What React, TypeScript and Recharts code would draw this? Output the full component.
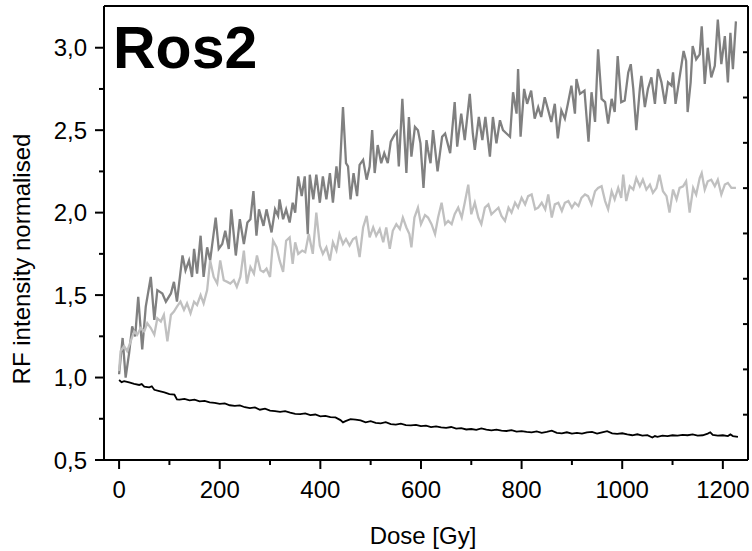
import React from 'react';
import { LineChart, Line, XAxis, YAxis, Customized } from 'recharts';

// Dark grey series (upper)
const doseDark = [0, 7, 13, 20, 26, 32, 38, 46, 53, 63, 70, 76, 86, 93, 103, 109, 115, 126, 132, 139, 145, 149, 155, 162, 168, 175, 181, 192, 198, 205, 211, 218, 223, 232, 240, 248, 255, 261, 267, 273, 278, 287, 293, 303, 310, 316, 319, 326, 332, 339, 345, 350, 356, 363, 369, 375, 379, 386, 392, 399, 405, 412, 419, 425, 432, 437, 445, 451, 455, 460, 466, 473, 478, 485, 492, 498, 503, 508, 514, 521, 527, 534, 540, 547, 552, 556, 563, 566, 571, 576, 581, 588, 594, 599, 605, 611, 614, 619, 624, 633, 642, 648, 653, 658, 667, 672, 680, 687, 697, 703, 707, 715, 722, 728, 737, 743, 750, 757, 763, 770, 777, 783, 790, 793, 798, 805, 811, 819, 826, 833, 839, 846, 853, 859, 866, 872, 879, 886, 892, 899, 906, 909, 916, 925, 933, 939, 946, 952, 959, 966, 972, 979, 985, 991, 998, 1005, 1012, 1017, 1022, 1028, 1035, 1038, 1045, 1051, 1058, 1065, 1071, 1078, 1085, 1091, 1098, 1101, 1106, 1111, 1118, 1122, 1127, 1130, 1136, 1140, 1147, 1154, 1158, 1164, 1170, 1177, 1184, 1190, 1197, 1204, 1210, 1215, 1220, 1226];
const rfDark = [1.02, 1.24, 1.0, 1.15, 1.31, 1.25, 1.49, 1.17, 1.43, 1.61, 1.35, 1.53, 1.51, 1.46, 1.51, 1.58, 1.46, 1.74, 1.65, 1.71, 1.61, 1.78, 1.63, 1.86, 1.61, 1.79, 1.71, 1.97, 1.78, 1.81, 1.89, 1.78, 2.02, 1.74, 1.96, 1.81, 1.94, 1.96, 2.13, 1.86, 2.02, 1.92, 2.02, 1.88, 2.02, 1.98, 2.08, 1.96, 2.02, 1.94, 2.06, 2.0, 2.22, 2.1, 2.22, 1.87, 2.23, 2.08, 2.23, 2.06, 2.22, 2.08, 2.24, 2.06, 2.28, 2.15, 2.64, 2.3, 2.28, 2.08, 2.24, 2.1, 2.29, 2.32, 2.2, 2.28, 2.5, 2.24, 2.41, 2.3, 2.36, 2.3, 2.43, 2.47, 2.49, 2.28, 2.69, 2.52, 2.24, 2.58, 2.34, 2.52, 2.5, 2.42, 2.15, 2.44, 2.38, 2.3, 2.5, 2.25, 2.46, 2.48, 2.42, 2.36, 2.67, 2.4, 2.6, 2.44, 2.72, 2.48, 2.38, 2.58, 2.44, 2.58, 2.34, 2.58, 2.42, 2.56, 2.5, 2.48, 2.46, 2.73, 2.6, 2.87, 2.46, 2.75, 2.66, 2.74, 2.57, 2.64, 2.58, 2.7, 2.62, 2.55, 2.66, 2.45, 2.62, 2.57, 2.66, 2.77, 2.6, 2.81, 2.72, 2.74, 2.43, 2.73, 2.55, 2.99, 2.69, 2.67, 2.54, 2.69, 2.61, 2.95, 2.67, 2.68, 2.85, 2.9, 2.75, 2.5, 2.75, 2.83, 2.64, 2.75, 2.82, 2.66, 2.87, 2.79, 2.66, 2.79, 2.77, 2.85, 2.66, 2.76, 2.9, 2.98, 2.92, 2.61, 2.79, 3.01, 2.93, 2.96, 3.13, 2.78, 3.0, 2.82, 2.89, 3.17, 2.9, 3.07, 2.79, 3.09, 2.87, 3.16];

// Light grey series (middle)
const doseLight = [0, 3, 10, 16, 23, 30, 36, 43, 50, 56, 63, 70, 76, 83, 89, 96, 103, 109, 115, 122, 129, 135, 142, 149, 155, 162, 168, 175, 181, 188, 195, 201, 208, 215, 221, 228, 234, 241, 248, 254, 261, 268, 274, 281, 287, 293, 300, 306, 313, 319, 326, 332, 339, 345, 350, 356, 364, 370, 377, 385, 392, 399, 405, 412, 419, 425, 432, 438, 445, 451, 458, 465, 471, 478, 485, 492, 498, 505, 511, 518, 525, 531, 538, 544, 551, 558, 564, 571, 577, 581, 587, 594, 600, 608, 614, 621, 628, 634, 641, 648, 654, 661, 667, 674, 681, 687, 694, 700, 707, 714, 720, 727, 734, 740, 747, 754, 760, 767, 774, 780, 787, 793, 800, 807, 813, 820, 827, 833, 840, 847, 853, 860, 866, 873, 880, 886, 893, 900, 906, 913, 919, 926, 932, 939, 946, 952, 959, 966, 972, 979, 985, 992, 998, 1002, 1008, 1015, 1022, 1028, 1035, 1041, 1048, 1055, 1061, 1068, 1074, 1081, 1088, 1094, 1101, 1108, 1114, 1121, 1127, 1134, 1141, 1147, 1154, 1158, 1164, 1170, 1177, 1184, 1190, 1197, 1204, 1210, 1217, 1226];
const rfLight = [1.04, 1.16, 1.19, 1.16, 1.22, 1.28, 1.26, 1.3, 1.28, 1.33, 1.3, 1.26, 1.36, 1.34, 1.38, 1.22, 1.38, 1.4, 1.43, 1.46, 1.41, 1.45, 1.39, 1.46, 1.44, 1.5, 1.45, 1.53, 1.71, 1.61, 1.57, 1.71, 1.59, 1.58, 1.57, 1.59, 1.55, 1.61, 1.77, 1.57, 1.67, 1.63, 1.74, 1.65, 1.64, 1.66, 1.61, 1.83, 1.79, 1.71, 1.64, 1.83, 1.85, 1.69, 1.82, 1.75, 1.77, 1.76, 1.87, 1.75, 2.0, 1.8, 1.75, 1.79, 1.71, 1.82, 1.77, 1.87, 1.81, 1.84, 1.8, 1.84, 1.85, 1.73, 1.91, 1.98, 1.85, 1.91, 1.86, 1.9, 1.82, 1.91, 1.78, 1.89, 1.93, 1.9, 1.97, 1.91, 1.87, 1.79, 1.97, 2.03, 1.93, 1.985, 1.97, 1.93, 1.87, 1.97, 2.06, 1.93, 1.95, 1.93, 1.99, 2.03, 1.97, 2.06, 2.17, 1.99, 2.06, 1.97, 1.93, 2.03, 2.05, 1.99, 2.01, 2.03, 1.98, 1.95, 2.03, 2.0, 2.06, 2.03, 2.09, 2.05, 2.1, 2.11, 2.02, 2.03, 2.06, 2.02, 2.11, 1.97, 2.05, 2.06, 2.01, 2.06, 2.07, 2.03, 2.06, 2.04, 2.09, 2.11, 2.1, 2.05, 2.13, 2.15, 2.16, 2.07, 2.02, 2.13, 2.08, 2.15, 2.09, 2.23, 2.07, 2.16, 2.14, 2.21, 2.16, 2.2, 2.14, 2.17, 2.12, 2.15, 2.23, 2.13, 2.1, 2.0, 2.14, 2.08, 2.15, 2.16, 2.19, 2.0, 2.15, 2.11, 2.21, 2.24, 2.14, 2.19, 2.2, 2.16, 2.2, 2.11, 2.17, 2.18, 2.15, 2.15];

// Black series (lower)
const doseBlack = [0, 5, 10, 20, 30, 40, 45, 50, 60, 65, 70, 80, 90, 100, 110, 115, 120, 130, 140, 150, 160, 170, 180, 190, 200, 210, 220, 230, 240, 250, 260, 270, 280, 290, 300, 310, 320, 330, 340, 350, 360, 370, 380, 390, 400, 410, 420, 430, 440, 445, 450, 460, 470, 480, 490, 500, 510, 520, 530, 540, 550, 560, 570, 580, 590, 600, 610, 620, 630, 640, 650, 660, 670, 680, 690, 700, 710, 720, 730, 740, 750, 760, 770, 780, 790, 800, 810, 820, 830, 840, 850, 860, 870, 880, 890, 900, 910, 920, 930, 940, 950, 960, 970, 980, 990, 1000, 1010, 1020, 1030, 1040, 1050, 1060, 1065, 1070, 1080, 1090, 1100, 1110, 1120, 1130, 1140, 1150, 1160, 1170, 1175, 1180, 1190, 1200, 1210, 1215, 1220, 1230];
const rfBlack = [0.985, 0.972, 0.978, 0.97, 0.962, 0.955, 0.96, 0.945, 0.94, 0.947, 0.926, 0.918, 0.91, 0.9, 0.896, 0.868, 0.866, 0.871, 0.862, 0.866, 0.856, 0.858, 0.85, 0.846, 0.84, 0.843, 0.832, 0.828, 0.831, 0.82, 0.815, 0.819, 0.805, 0.811, 0.8, 0.797, 0.792, 0.796, 0.787, 0.78, 0.778, 0.783, 0.772, 0.776, 0.765, 0.768, 0.76, 0.758, 0.742, 0.728, 0.736, 0.748, 0.745, 0.74, 0.728, 0.735, 0.725, 0.722, 0.729, 0.718, 0.715, 0.72, 0.712, 0.71, 0.713, 0.705, 0.708, 0.7, 0.704, 0.698, 0.695, 0.7, 0.69, 0.693, 0.685, 0.688, 0.683, 0.692, 0.684, 0.68, 0.684, 0.678, 0.676, 0.681, 0.672, 0.675, 0.67, 0.668, 0.673, 0.665, 0.67, 0.678, 0.665, 0.662, 0.668, 0.66, 0.665, 0.66, 0.667, 0.67, 0.66, 0.668, 0.675, 0.662, 0.658, 0.662, 0.655, 0.65, 0.656, 0.648, 0.651, 0.636, 0.645, 0.64, 0.648, 0.645, 0.65, 0.648, 0.652, 0.65, 0.655, 0.648, 0.65, 0.66, 0.668, 0.652, 0.648, 0.65, 0.645, 0.655, 0.645, 0.64];

const xTicks = [0, 100, 200, 300, 400, 500, 600, 700, 800, 900, 1000, 1100, 1200];
const yTicks = [0.5, 0.75, 1.0, 1.25, 1.5, 1.75, 2.0, 2.25, 2.5, 2.75, 3.0];
const topTicks = [1, 2, 3, 4, 5, 6, 7, 8, 9];
const rightTicks = [1, 2, 3, 4, 5, 6, 7, 8, 9];

const chartTitle = 'Ros2';
const xTitle = 'Dose [Gy]';
const yTitle = 'RF intensity normalised';

const toRows = (xs: number[], ys: number[]) => xs.map((x, i) => ({ x, y: ys[i] }));
const darkData = toRows(doseDark, rfDark);
const lightData = toRows(doseLight, rfLight);
const blackData = toRows(doseBlack, rfBlack);

const FONT = '"Liberation Sans", Arial, Helvetica, sans-serif';

const XTick = (props: any) => {
  const { x, y, payload } = props;
  const v = payload.value;
  const major = v % 200 === 0;
  return (
    <g>
      <line x1={x} x2={x} y1={y} y2={y + (major ? 9 : 5)} stroke="#000" strokeWidth={2} />
      {major && (
        <text x={x} y={y + 38} textAnchor="middle" fontSize={24} fontFamily={FONT} fill="#000">
          {String(v)}
        </text>
      )}
    </g>
  );
};

const YTick = (props: any) => {
  const { x, y, payload } = props;
  const v = payload.value;
  const major = Math.abs(v * 2 - Math.round(v * 2)) < 1e-6;
  return (
    <g>
      <line x1={x - (major ? 9 : 5)} x2={x} y1={y} y2={y} stroke="#000" strokeWidth={2} />
      {major && (
        <text x={x - 17} y={y + 8.6} textAnchor="end" fontSize={24} fontFamily={FONT} fill="#000">
          {v.toFixed(1).replace('.', ',')}
        </text>
      )}
    </g>
  );
};

const renderYTitle = () => (
  <text x={30} y={259} transform="rotate(-90, 30, 259)" textAnchor="middle" fontSize={24} fontFamily={FONT} fill="#000">
    {yTitle}
  </text>
);

const renderXTitle = () => (
  <text x={423} y={544} textAnchor="middle" fontSize={24} fontFamily={FONT} fill="#000">
    {xTitle}
  </text>
);

const TitleText = () => (
  <text x={113} y={68} fontSize={59} fontWeight="bold" fontFamily={FONT} fill="#000">
    {chartTitle}
  </text>
);

export default function App() {
  return (
    <div style={{ position: 'absolute', left: 0, top: 0, background: '#fff' }}>
      <LineChart width={752} height={551} margin={{ top: 6, right: 4, bottom: 0, left: 0 }}>
        <XAxis
          xAxisId="bottom"
          dataKey="x"
          type="number"
          domain={[-30, 1250]}
          allowDataOverflow
          ticks={xTicks}
          interval={0}
          height={91}
          tickSize={0}
          tickMargin={0}
          tickLine={false}
          axisLine={{ stroke: '#000', strokeWidth: 2 }}
          tick={<XTick />}
          label={renderXTitle}
        />
        <XAxis
          xAxisId="top"
          orientation="top"
          mirror
          type="number"
          domain={[-0.024, 9.968]}
          allowDataOverflow
          ticks={topTicks}
          interval={0}
          tickSize={4}
          tickLine={{ stroke: '#000', strokeWidth: 2 }}
          axisLine={{ stroke: '#000', strokeWidth: 2 }}
          tickFormatter={() => ''}
        />
        <YAxis
          yAxisId="left"
          type="number"
          domain={[0.5, 3.253]}
          allowDataOverflow
          ticks={yTicks}
          interval={0}
          width={104}
          tickSize={0}
          tickMargin={0}
          tickLine={false}
          axisLine={{ stroke: '#000', strokeWidth: 2 }}
          tick={<YTick />}
          label={renderYTitle}
        />
        <YAxis
          yAxisId="right"
          orientation="right"
          mirror
          type="number"
          domain={[0, 10.02]}
          allowDataOverflow
          ticks={rightTicks}
          interval={0}
          tickSize={5}
          tickLine={{ stroke: '#000', strokeWidth: 2 }}
          axisLine={{ stroke: '#000', strokeWidth: 2 }}
          tickFormatter={() => ''}
        />
        <Line
          xAxisId="bottom"
          yAxisId="left"
          data={darkData}
          dataKey="y"
          type="linear"
          stroke="#808080"
          strokeWidth={2.3}
          dot={false}
          isAnimationActive={false}
        />
        <Line
          xAxisId="bottom"
          yAxisId="left"
          data={lightData}
          dataKey="y"
          type="linear"
          stroke="#c0c0c0"
          strokeWidth={2.3}
          dot={false}
          isAnimationActive={false}
        />
        <Line
          xAxisId="bottom"
          yAxisId="left"
          data={blackData}
          dataKey="y"
          type="linear"
          stroke="#000"
          strokeWidth={1.8}
          dot={false}
          isAnimationActive={false}
        />
        <Customized component={TitleText} />
      </LineChart>
    </div>
  );
}
